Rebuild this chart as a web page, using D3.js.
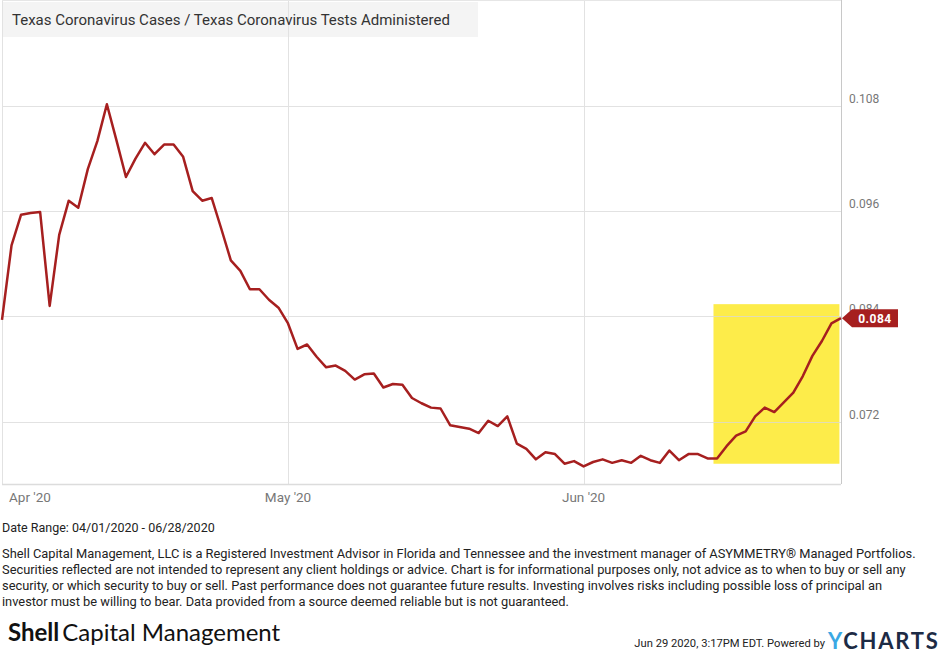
<!DOCTYPE html>
<html>
<head>
<meta charset="utf-8">
<script src="https://cdn.jsdelivr.net/npm/d3@7"></script>
<style>
  html, body { margin: 0; padding: 0; background: #fff; }
  svg { display: block; }
</style>
</head>
<body>
<svg id="chart" width="944" height="655"></svg>
<script>
// ---- Data ----
const startDate = "2020-04-01";
const ratioValues = [
  0.0836, 0.0921, 0.0956, 0.0958, 0.0959, 0.0852, 0.0933, 0.0972, 0.0964, 0.1008,
  0.1040, 0.1082, 0.1041, 0.0999, 0.1020, 0.1038, 0.1025, 0.1036, 0.1036, 0.1022,
  0.0983, 0.0972, 0.0975, 0.0940, 0.0904, 0.0892, 0.0871, 0.0871, 0.0859, 0.0850,
  0.0832, 0.0803, 0.0808, 0.0794, 0.0782, 0.0784, 0.0778, 0.0768, 0.0774, 0.0775,
  0.0759, 0.0763, 0.0762, 0.0747, 0.0741, 0.0736, 0.0735, 0.0716, 0.0714, 0.0712,
  0.0707, 0.0721, 0.0715, 0.0726, 0.0695, 0.0689, 0.0677, 0.0685, 0.0683, 0.0672,
  0.0675, 0.0669, 0.0674, 0.0677, 0.0673, 0.0676, 0.0673, 0.0681, 0.0676, 0.0673,
  0.0687, 0.0676, 0.0683, 0.0683, 0.0678, 0.0678, 0.0692, 0.0704, 0.0709, 0.0726,
  0.0736, 0.0731, 0.0742, 0.0753, 0.0772, 0.0795, 0.0812, 0.0832, 0.0838
];
const yTickValues = [0.072, 0.084, 0.096, 0.108];
const yTickLabels = ["0.072", "0.084", "0.096", "0.108"];
const xTickDates = ["2020-04-01", "2020-05-01", "2020-06-01"];
const xTickLabels = ["Apr '20", "May '20", "Jun '20"];
const lastLabel = "0.084";
const highlightX = ["2020-06-14T15:00", "2020-06-27T20:00"];
const highlightY = [0.0672, 0.0854];
const titleText = "Texas Coronavirus Cases / Texas Coronavirus Tests Administered";
const dateRangeText = "Date Range: 04/01/2020 - 06/28/2020";
const disclaimerLines = [
  "Shell Capital Management, LLC is a Registered Investment Advisor in Florida and Tennessee and the investment manager of ASYMMETRY® Managed Portfolios.",
  "Securities reflected are not intended to represent any client holdings or advice. Chart is for informational purposes only, not advice as to when to buy or sell any",
  "security, or which security to buy or sell. Past performance does not guarantee future results. Investing involves risks including possible loss of principal an",
  "investor must be willing to bear. Data provided from a source deemed reliable but is not guaranteed."
];
const timestampText = "Jun 29 2020, 3:17PM EDT.  Powered by";

// ---- Build ----
(function () {
const parse = d3.isoParse;
const t0 = parse(startDate);
const data = ratioValues.map((v, i) => ({ date: d3.timeDay.offset(t0, i), value: v }));

const svg = d3.select("#chart");
const pLeft = 2, pRight = 841, pTop = 2, pBottom = 484;

const x = d3.scaleTime()
  .domain([data[0].date, data[data.length - 1].date])
  .range([pLeft, pRight]);
const y = d3.scaleLinear()
  .domain([0.06489, 0.11986])
  .range([pBottom, pTop]);

const font = "Roboto, 'Noto Sans', sans-serif";

// title background
svg.append("rect")
  .attr("x", pLeft).attr("y", pTop).attr("width", 476).attr("height", 35)
  .attr("fill", "#f4f4f4");

// highlight
svg.append("rect")
  .attr("x", x(parse(highlightX[0])))
  .attr("y", y(highlightY[1]))
  .attr("width", x(parse(highlightX[1])) - x(parse(highlightX[0])))
  .attr("height", y(highlightY[0]) - y(highlightY[1]))
  .attr("fill", "#fdec4a");

// horizontal gridlines
svg.append("g").selectAll("line").data(yTickValues).join("line")
  .attr("x1", pLeft).attr("x2", pRight)
  .attr("y1", d => Math.round(y(d)) + 0.5).attr("y2", d => Math.round(y(d)) + 0.5)
  .attr("stroke", "#d8d8d8").attr("stroke-opacity", 0.75).attr("stroke-width", 1);

// vertical gridlines
svg.append("g").selectAll("line").data(xTickDates).join("line")
  .attr("x1", d => Math.round(x(parse(d))) + 0.5).attr("x2", d => Math.round(x(parse(d))) + 0.5)
  .attr("y1", 0).attr("y2", pBottom)
  .attr("stroke", "#e2e2e2").attr("stroke-width", 1);

// frame
svg.append("line").attr("x1", pLeft).attr("x2", pRight).attr("y1", 0.5).attr("y2", 0.5)
  .attr("stroke", "#e6e6e6");
svg.append("line").attr("x1", pLeft).attr("x2", pRight).attr("y1", pBottom + 0.5).attr("y2", pBottom + 0.5)
  .attr("stroke", "#dcdcdc").attr("stroke-width", 1.5);
svg.append("line").attr("x1", pRight + 0.5).attr("x2", pRight + 0.5).attr("y1", 0).attr("y2", pBottom)
  .attr("stroke", "#c8c8c8");

// title
svg.append("text")
  .attr("x", 12).attr("y", 25)
  .attr("font-family", font).attr("font-size", 15).attr("fill", "#333")
  .text(titleText);

// y labels
svg.append("g").selectAll("text").data(yTickValues).join("text")
  .attr("x", 849).attr("y", d => y(d) - 3)
  .attr("font-family", font).attr("font-size", 12).attr("fill", "#777")
  .text((d, i) => yTickLabels[i]);

// x labels
svg.append("g").selectAll("text").data(xTickDates).join("text")
  .attr("x", (d, i) => i === 0 ? 9 : x(parse(d)))
  .attr("y", 502)
  .attr("text-anchor", (d, i) => i === 0 ? "start" : "middle")
  .attr("font-family", font).attr("font-size", 13.5).attr("fill", "#777")
  .text((d, i) => xTickLabels[i]);

// line
const line = d3.line().x(d => x(d.date)).y(d => y(d.value));
svg.append("path").datum(data)
  .attr("d", line)
  .attr("fill", "none")
  .attr("stroke", "#a61f1f")
  .attr("stroke-width", 2.5)
  .attr("stroke-linejoin", "round");

// end tag
const last = data[data.length - 1];
const tx = x(last.date) + 1, ty = y(last.value);
svg.append("path")
  .attr("d", `M${tx},${ty} L${tx + 10},${ty - 9} L${tx + 56},${ty - 9} L${tx + 56},${ty + 9} L${tx + 10},${ty + 9} Z`)
  .attr("fill", "#a61f1f");
svg.append("text")
  .attr("x", tx + 33).attr("y", ty + 4.5)
  .attr("text-anchor", "middle")
  .attr("font-family", font).attr("font-size", 12).attr("font-weight", "bold")
  .attr("fill", "#fff").attr("letter-spacing", 0.5)
  .text(lastLabel);

// date range
svg.append("text")
  .attr("x", 2).attr("y", 532)
  .attr("font-family", font).attr("font-size", 12.5).attr("fill", "#222")
  .text(dateRangeText);

// disclaimer
svg.append("g").selectAll("text").data(disclaimerLines).join("text")
  .attr("x", 2).attr("y", (d, i) => 557.5 + i * 16.3)
  .attr("font-family", font).attr("font-size", 12.85).attr("fill", "#222")
  .text(d => d);

// Shell logo
const logo = svg.append("text")
  .attr("x", 8).attr("y", 641)
  .attr("font-family", "Lato, 'Noto Sans', sans-serif").attr("font-size", 24).attr("fill", "#111");
logo.append("tspan").attr("font-weight", "bold").text("Shell");
logo.append("tspan").attr("font-weight", "normal").attr("dx", 3).text("Capital Management");

// timestamp + ycharts
svg.append("text")
  .attr("x", 825).attr("y", 647)
  .attr("text-anchor", "end")
  .attr("font-family", font).attr("font-size", 11.2).attr("fill", "#222")
  .text(timestampText);
const yc = svg.append("text")
  .attr("x", 828).attr("y", 649)
  .attr("font-family", "Lato, 'Noto Sans', sans-serif").attr("font-size", 22).attr("font-weight", "bold")
  .attr("letter-spacing", 1.8);
yc.append("tspan").attr("fill", "#3aa8e4").text("Y");
yc.append("tspan").attr("fill", "#1d2b45").text("CHARTS");
})();
</script>
</body>
</html>
